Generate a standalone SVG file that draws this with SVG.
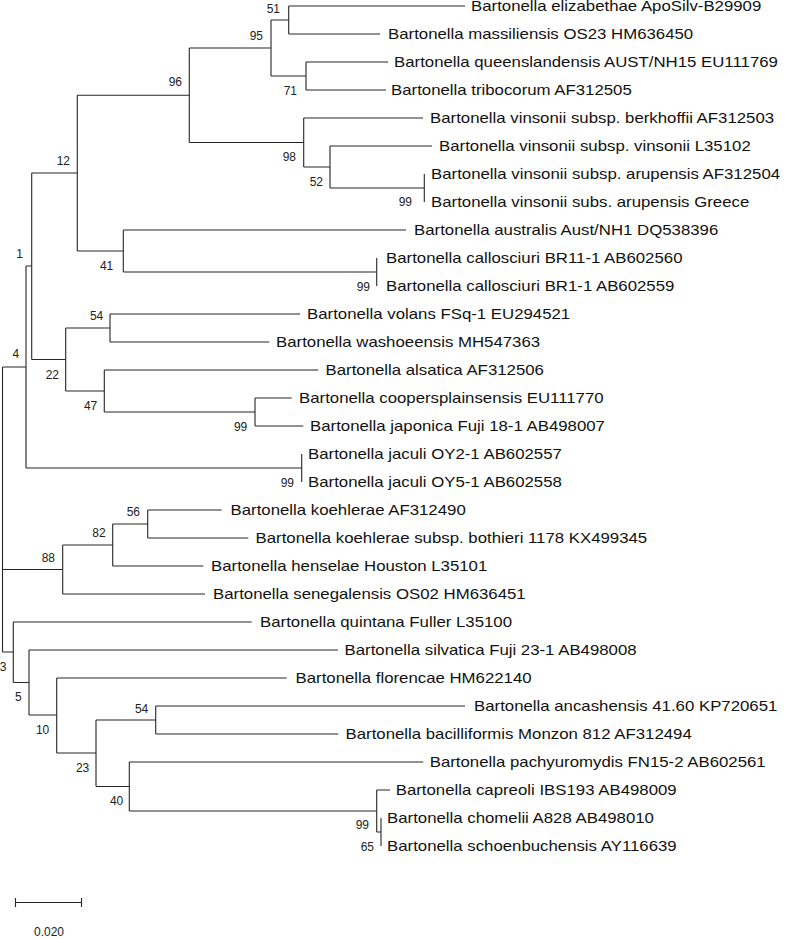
<svg xmlns="http://www.w3.org/2000/svg" width="787" height="939" viewBox="0 0 787 939">
<style>
.br{stroke:#262626;stroke-width:1.1;fill:none}
.tip{font-family:"Liberation Sans",Arial,sans-serif;font-size:14px;fill:#111}
.bs{font-family:"Liberation Sans",Arial,sans-serif;font-size:12px;fill:#222;text-anchor:end}
.sc{font-family:"Liberation Sans",Arial,sans-serif;font-size:12px;fill:#222;text-anchor:middle}
</style>
<rect width="787" height="939" fill="#fff"/>
<g id="connectors" class="br">
<path d="M2.5 367V652M2.5 367H26M2.5 569.5H62.7M2.5 652H13.3"/>
<path d="M26 266V468M26 266H31.7M26 468H301.7"/>
<path d="M31.7 173V359.5M31.7 173H77.3M31.7 359.5H65.7"/>
<path d="M77.3 95.3V251M77.3 95.3H189.3M77.3 251H123.3"/>
<path d="M189.3 48V142.5M189.3 48H271M189.3 142.5H303.7"/>
<path d="M271 20V76M271 20H288.7M271 76H306"/>
<path d="M288.7 6V34M288.7 6H465M288.7 34H380"/>
<path d="M306 62V90M306 62H388M306 90H386"/>
<path d="M303.7 118V167M303.7 118H423M303.7 167H330"/>
<path d="M330 146V188M330 146H432M330 188H424.3"/>
<path d="M424.3 174V202"/>
<path d="M123.3 230V272M123.3 230H406M123.3 272H376.7"/>
<path d="M376.7 258V286"/>
<path d="M65.7 328V391M65.7 328H110M65.7 391H104.3"/>
<path d="M110 314V342M110 314H300M110 342H269.3"/>
<path d="M104.3 370V412M104.3 370H318.3M104.3 412H255"/>
<path d="M255 398V426M255 398H291.7M255 426H303.3"/>
<path d="M301.7 454V482"/>
<path d="M62.7 545V594M62.7 545H112.7M62.7 594H205"/>
<path d="M112.7 524V566M112.7 524H147.7M112.7 566H203.3"/>
<path d="M147.7 510V538M147.7 510H221.7M147.7 538H248.3"/>
<path d="M13.3 622V682.5M13.3 622H251.7M13.3 682.5H29"/>
<path d="M29 650V715M29 650H338M29 715H56.7"/>
<path d="M56.7 678V753M56.7 678H286.7M56.7 753H96"/>
<path d="M96 720V786.5M96 720H155.7M96 786.5H129.3"/>
<path d="M155.7 706V734M155.7 706H465M155.7 734H338.3"/>
<path d="M129.3 762V811M129.3 762H423.3M129.3 811H376.7"/>
<path d="M376.7 790V832M376.7 790H390M376.7 832H381"/>
<path d="M381 818V846"/>
</g>
<g id="tip-elizabethae"><text class="tip" transform="translate(471,11) scale(1.2,1)">Bartonella elizabethae ApoSilv-B29909</text></g>
<g id="tip-massiliensis"><text class="tip" transform="translate(388,39) scale(1.2,1)">Bartonella massiliensis OS23 HM636450</text></g>
<g id="tip-queenslandensis"><text class="tip" transform="translate(394,67) scale(1.2,1)">Bartonella queenslandensis AUST/NH15 EU111769</text></g>
<g id="tip-tribocorum"><text class="tip" transform="translate(391,95) scale(1.2,1)">Bartonella tribocorum AF312505</text></g>
<g id="tip-berkhoffii"><text class="tip" transform="translate(430,123) scale(1.2,1)">Bartonella vinsonii subsp. berkhoffii AF312503</text></g>
<g id="tip-vinsonii"><text class="tip" transform="translate(439,151) scale(1.2,1)">Bartonella vinsonii subsp. vinsonii L35102</text></g>
<g id="tip-arupensis"><text class="tip" transform="translate(431,179) scale(1.2,1)">Bartonella vinsonii subsp. arupensis AF312504</text></g>
<g id="tip-arupensis-greece"><text class="tip" transform="translate(431,207) scale(1.2,1)">Bartonella vinsonii subs. arupensis Greece</text></g>
<g id="tip-australis"><text class="tip" transform="translate(414,235) scale(1.2,1)">Bartonella australis Aust/NH1 DQ538396</text></g>
<g id="tip-callosciuri-br11"><text class="tip" transform="translate(386,263) scale(1.2,1)">Bartonella callosciuri BR11-1 AB602560</text></g>
<g id="tip-callosciuri-br1"><text class="tip" transform="translate(386,291) scale(1.2,1)">Bartonella callosciuri BR1-1 AB602559</text></g>
<g id="tip-volans"><text class="tip" transform="translate(307,319) scale(1.2,1)">Bartonella volans FSq-1 EU294521</text></g>
<g id="tip-washoeensis"><text class="tip" transform="translate(276,347) scale(1.2,1)">Bartonella washoeensis MH547363</text></g>
<g id="tip-alsatica"><text class="tip" transform="translate(325.5,375) scale(1.2,1)">Bartonella alsatica AF312506</text></g>
<g id="tip-coopersplainsensis"><text class="tip" transform="translate(299,403) scale(1.2,1)">Bartonella coopersplainsensis EU111770</text></g>
<g id="tip-japonica"><text class="tip" transform="translate(310,431) scale(1.2,1)">Bartonella japonica Fuji 18-1 AB498007</text></g>
<g id="tip-jaculi-oy2"><text class="tip" transform="translate(308,459) scale(1.2,1)">Bartonella jaculi OY2-1 AB602557</text></g>
<g id="tip-jaculi-oy5"><text class="tip" transform="translate(308,487) scale(1.2,1)">Bartonella jaculi OY5-1 AB602558</text></g>
<g id="tip-koehlerae"><text class="tip" transform="translate(230.5,515) scale(1.2,1)">Bartonella koehlerae AF312490</text></g>
<g id="tip-bothieri"><text class="tip" transform="translate(255.5,543) scale(1.2,1)">Bartonella koehlerae subsp. bothieri 1178 KX499345</text></g>
<g id="tip-henselae"><text class="tip" transform="translate(211,571) scale(1.2,1)">Bartonella henselae Houston L35101</text></g>
<g id="tip-senegalensis"><text class="tip" transform="translate(213,599) scale(1.2,1)">Bartonella senegalensis OS02 HM636451</text></g>
<g id="tip-quintana"><text class="tip" transform="translate(260,627) scale(1.2,1)">Bartonella quintana Fuller L35100</text></g>
<g id="tip-silvatica"><text class="tip" transform="translate(344.5,655) scale(1.2,1)">Bartonella silvatica Fuji 23-1 AB498008</text></g>
<g id="tip-florencae"><text class="tip" transform="translate(295.5,683) scale(1.2,1)">Bartonella florencae HM622140</text></g>
<g id="tip-ancashensis"><text class="tip" transform="translate(474,711) scale(1.2,1)">Bartonella ancashensis 41.60 KP720651</text></g>
<g id="tip-bacilliformis"><text class="tip" transform="translate(345.5,739) scale(1.2,1)">Bartonella bacilliformis Monzon 812 AF312494</text></g>
<g id="tip-pachyuromydis"><text class="tip" transform="translate(429.7,767) scale(1.2,1)">Bartonella pachyuromydis FN15-2 AB602561</text></g>
<g id="tip-capreoli"><text class="tip" transform="translate(395.7,795) scale(1.2,1)">Bartonella capreoli IBS193 AB498009</text></g>
<g id="tip-chomelii"><text class="tip" transform="translate(387,823) scale(1.2,1)">Bartonella chomelii A828 AB498010</text></g>
<g id="tip-schoenbuchensis"><text class="tip" transform="translate(387,851) scale(1.2,1)">Bartonella schoenbuchensis AY116639</text></g>
<g id="node-51"><text class="bs" x="280" y="12.6">51</text></g>
<g id="node-95"><text class="bs" x="263" y="40">95</text></g>
<g id="node-96"><text class="bs" x="182" y="86.3">96</text></g>
<g id="node-71"><text class="bs" x="297" y="95">71</text></g>
<g id="node-98"><text class="bs" x="296" y="161">98</text></g>
<g id="node-52"><text class="bs" x="323" y="186">52</text></g>
<g id="node-99a"><text class="bs" x="412" y="206">99</text></g>
<g id="node-12"><text class="bs" x="70" y="165">12</text></g>
<g id="node-41"><text class="bs" x="113.3" y="270">41</text></g>
<g id="node-99b"><text class="bs" x="370" y="291">99</text></g>
<g id="node-1"><text class="bs" x="23" y="257.6">1</text></g>
<g id="node-54a"><text class="bs" x="103.3" y="320.3">54</text></g>
<g id="node-22"><text class="bs" x="59" y="378.6">22</text></g>
<g id="node-47"><text class="bs" x="97.3" y="410">47</text></g>
<g id="node-99d"><text class="bs" x="247.3" y="431">99</text></g>
<g id="node-99e"><text class="bs" x="294" y="486.6">99</text></g>
<g id="node-4"><text class="bs" x="19.3" y="358.3">4</text></g>
<g id="node-56"><text class="bs" x="140" y="516">56</text></g>
<g id="node-82"><text class="bs" x="105.7" y="537">82</text></g>
<g id="node-88"><text class="bs" x="55" y="562">88</text></g>
<g id="node-3"><text class="bs" x="6.5" y="671">3</text></g>
<g id="node-5"><text class="bs" x="21.7" y="701">5</text></g>
<g id="node-10"><text class="bs" x="49.3" y="734.3">10</text></g>
<g id="node-54b"><text class="bs" x="148.3" y="712.6">54</text></g>
<g id="node-23"><text class="bs" x="89.3" y="771.6">23</text></g>
<g id="node-40"><text class="bs" x="123.3" y="805">40</text></g>
<g id="node-99c"><text class="bs" x="369" y="829.3">99</text></g>
<g id="node-65"><text class="bs" x="374" y="851.3">65</text></g>
<g id="scale-bar">
<path class="br" d="M15 902.5H81.7M15.5 898V907M81.5 898V907"/>
<text class="sc" x="49" y="936">0.020</text>
</g>
</svg>
